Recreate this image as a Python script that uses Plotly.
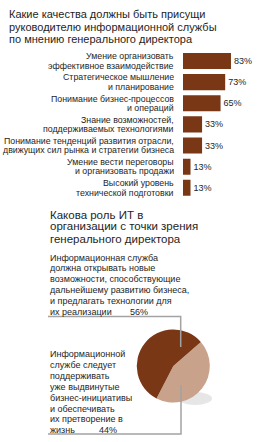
import plotly.graph_objects as go

# ---- data ----
title1_lines = ["Какие качества должны быть присущи",
                "руководителю информационной службы",
                "по мнению генерального директора"]
categories = [
    ["Умение организовать", "эффективное взаимодействие"],
    ["Стратегическое мышление", "и планирование"],
    ["Понимание бизнес-процессов", "и операций"],
    ["Знание возможностей,", "поддерживаемых технологиями"],
    ["Понимание тенденций развития отрасли,", "движущих сил рынка и стратегии бизнеса"],
    ["Умение вести переговоры", "и организовать продажи"],
    ["Высокий уровень", "технической подготовки"],
]
values = [83, 73, 65, 33, 33, 13, 13]

title2_lines = ["Какова роль ИТ в",
                "организации с точки зрения",
                "генерального директора"]
pie_labels = ["Поддерживать бизнес-инициативы", "Открывать новые возможности"]
pie_values = [44, 56]
text_new = ["Информационная служба",
            "должна открывать новые",
            "возможности, способствующие",
            "дальнейшему развитию бизнеса,",
            "и предлагать технологии для",
            "их реализации"]
text_support = ["Информационной",
                "службе следует",
                "поддерживать",
                "уже выдвинутые",
                "бизнес-инициативы",
                "и обеспечивать",
                "их претворение в",
                "жизнь"]

W, H = 257, 442
BROWN = "#7a3716"
TAN = "#c8a28b"
TXT = "#1e1e1e"
GRAY = "#a3a3a3"
FONT = "Liberation Sans"

def px(x):
    return x / W

def py(y):
    return 1 - y / H

fig = go.Figure()

# bar chart
ypos = list(range(len(values)))
fig.add_trace(go.Bar(
    x=values, y=ypos, orientation="h",
    marker=dict(color=BROWN, line=dict(width=0)),
    width=0.76,
    text=[f"{v}%" for v in values], textposition="outside",
    textfont=dict(family=FONT, size=9, color=TXT),
    cliponaxis=False, hoverinfo="skip", showlegend=False,
))

bar_left, scale = 183, 0.578
fig.update_layout(
    xaxis=dict(domain=[px(bar_left), px(bar_left + 100 * scale)], range=[0, 100],
               visible=False, fixedrange=True),
    yaxis=dict(domain=[py(198.4), py(50.4)], range=[6.5, -0.5],
               visible=False, fixedrange=True),
)

ann = []
# category labels
for i, lines in enumerate(categories):
    for j, line in enumerate(lines):
        ann.append(dict(text=line, xref="paper", yref="y", x=px(176),
                        y=i + (j - 0.5) * 0.45, xanchor="right", yanchor="middle",
                        showarrow=False, font=dict(family=FONT, size=8.8, color=TXT)))

# titles
def add_lines(lines, x, y0, step, size, color=TXT):
    for k, line in enumerate(lines):
        ann.append(dict(text=line, xref="paper", yref="paper", x=px(x), y=py(y0 + k * step),
                        xanchor="left", yanchor="middle", showarrow=False,
                        font=dict(family=FONT, size=size, color=color)))

add_lines(title1_lines, 7, 14.5, 12, 11)
add_lines(title2_lines, 48, 214.5, 12, 11.5)
add_lines(text_new, 48, 257.5, 10.8, 9)
add_lines(text_support, 48, 354, 10.9, 9)

# pie percentages
ann.append(dict(text=f"{pie_values[1]}%", xref="paper", yref="paper", x=px(128), y=py(311.7),
                xanchor="left", yanchor="middle", showarrow=False,
                font=dict(family=FONT, size=9, color=TXT)))
ann.append(dict(text=f"{pie_values[0]}%", xref="paper", yref="paper", x=px(97), y=py(430),
                xanchor="left", yanchor="middle", showarrow=False,
                font=dict(family=FONT, size=9, color=TXT)))

# pie
cx, cy, r = 173.3, 366, 36.5
fig.add_trace(go.Pie(
    labels=pie_labels, values=pie_values, sort=False, direction="clockwise",
    rotation=49, marker=dict(colors=[TAN, BROWN], line=dict(width=0)),
    textinfo="none", hoverinfo="skip", showlegend=False,
    domain=dict(x=[px(cx - r), px(cx + r)], y=[py(cy + r), py(cy - r)]),
))

shapes = [
    # soft shadow
    dict(type="circle", xref="paper", yref="paper", layer="below",
         x0=px(178), x1=px(212), y0=py(405), y1=py(392),
         fillcolor="#e6e6e6", line=dict(width=0)),
    # connector lines
    dict(type="path", xref="paper", yref="paper", layer="above",
         path=f"M {px(48)} {py(316.5)} L {px(180.7)} {py(316.5)} L {px(180.7)} {py(347)}",
         line=dict(color=GRAY, width=1.5)),
    dict(type="path", xref="paper", yref="paper", layer="above",
         path=f"M {px(181)} {py(385)} L {px(181)} {py(434)} L {px(48)} {py(434)}",
         line=dict(color=GRAY, width=1.5)),
]

fig.update_layout(
    width=W, height=H, margin=dict(l=0, r=0, t=0, b=0),
    paper_bgcolor="white", plot_bgcolor="white",
    annotations=ann, shapes=shapes, showlegend=False,
)

fig.write_html("out.html", config={"displayModeBar": False})
